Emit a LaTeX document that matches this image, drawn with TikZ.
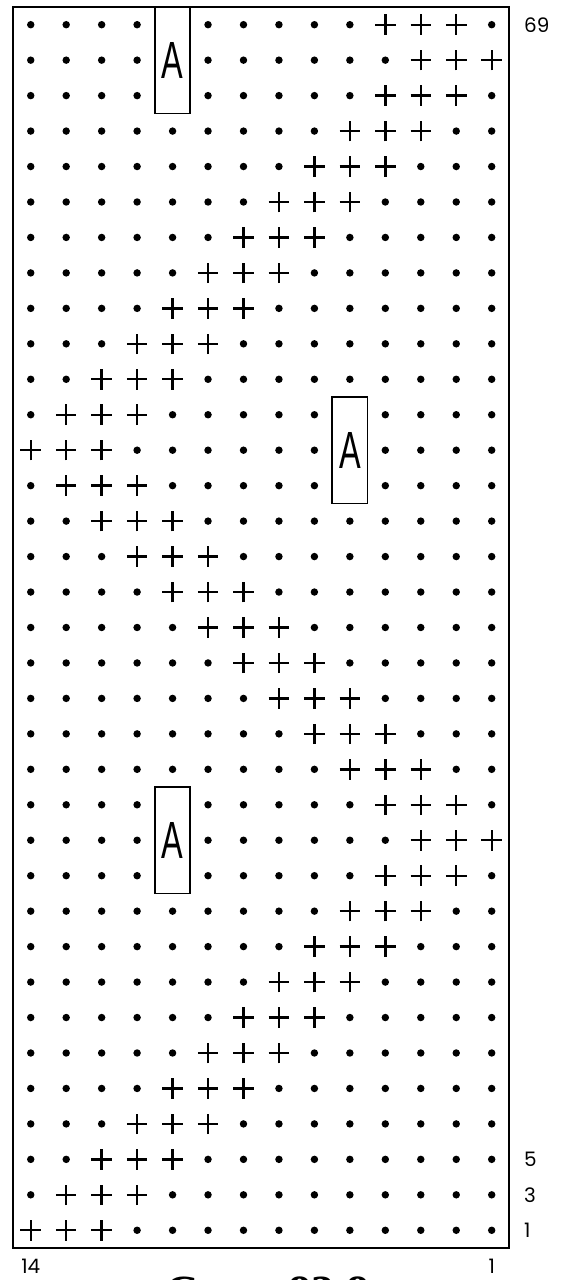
\documentclass[tikz,border=0pt]{standalone}
\usepackage{fontspec}
\setmainfont{Liberation Serif}
\newfontfamily\numfont{Poppins}
\newfontfamily\boxfont{Liberation Sans}
\usetikzlibrary{positioning}

\begin{document}
\begin{tikzpicture}[
  x = 1cm, y = 1cm,
  frame/.style = {draw, line width=1.5pt, minimum width=14cm, minimum height=35cm, inner sep=0pt},
  dot/.style = {fill=black, circle, inner sep=0pt, minimum size=0.21cm},
  plus/.style = {line width=1.9pt},
  abox/.style = {draw, fill=white, line width=1.3pt, minimum width=1cm, minimum height=3cm,
                 inner sep=0pt, font=\boxfont\fontsize{42}{42}\selectfont},
  rownum/.style = {font=\numfont\fontsize{16}{16}\selectfont, inner sep=0pt},
  title/.style = {font=\bfseries\fontsize{37}{37}\selectfont, inner sep=0pt, anchor=base}
]
\useasboundingbox (-0.367,-0.902) rectangle (15.454,35.197);

\node[frame] (chart) at (7,17.5) {};

% stitches, row by row from the top (row 69 down to row 1)
\foreach \s [count=\k from 0] in {10,11,10,9,8,7,6,5,4,3,2,1,0,1,2,3,4,5,6,7,8,9,10,11,10,9,8,7,6,5,4,3,2,1,0} {
  \pgfmathtruncatemacro{\e}{\s+2}
  \foreach \c in {0,...,13} {
    \ifnum\c<\s
      \node[dot] (d-\k-\c) at (\c+0.5,34.5-\k) {};
    \else\ifnum\c>\e
      \node[dot] (d-\k-\c) at (\c+0.5,34.5-\k) {};
    \else
      \coordinate (p-\k-\c) at (\c+0.5,34.5-\k);
      \draw[plus] ([xshift=-0.29cm]p-\k-\c) -- ([xshift=0.29cm]p-\k-\c)
                  ([yshift=-0.29cm]p-\k-\c) -- ([yshift=0.29cm]p-\k-\c);
    \fi\fi
  }
}

% cable boxes
\node[abox] (a1) at (4.5,33.5) {\scalebox{0.62}[1]{A}};
\node[abox] (a2) at (9.5,22.5) {\scalebox{0.62}[1]{A}};
\node[abox] (a3) at (4.5,11.5) {\scalebox{0.62}[1]{A}};

% row and stitch numbers
\node[rownum, anchor=west] (r69) at (14.41,34.5) {69};
\node[rownum, anchor=west] (r5)  at (14.41,2.5)  {5};
\node[rownum, anchor=west] (r3)  at (14.41,1.5)  {3};
\node[rownum, anchor=west] (r1)  at (14.41,0.5)  {1};
\node[rownum, anchor=base] (c14) at (0.5,-0.72)  {14};
\node[rownum, anchor=base] (c1)  at (13.5,-0.72) {1};

\node[title] (name) at (7.18,-1.68) {Cross 83.8};

\end{tikzpicture}
\end{document}
